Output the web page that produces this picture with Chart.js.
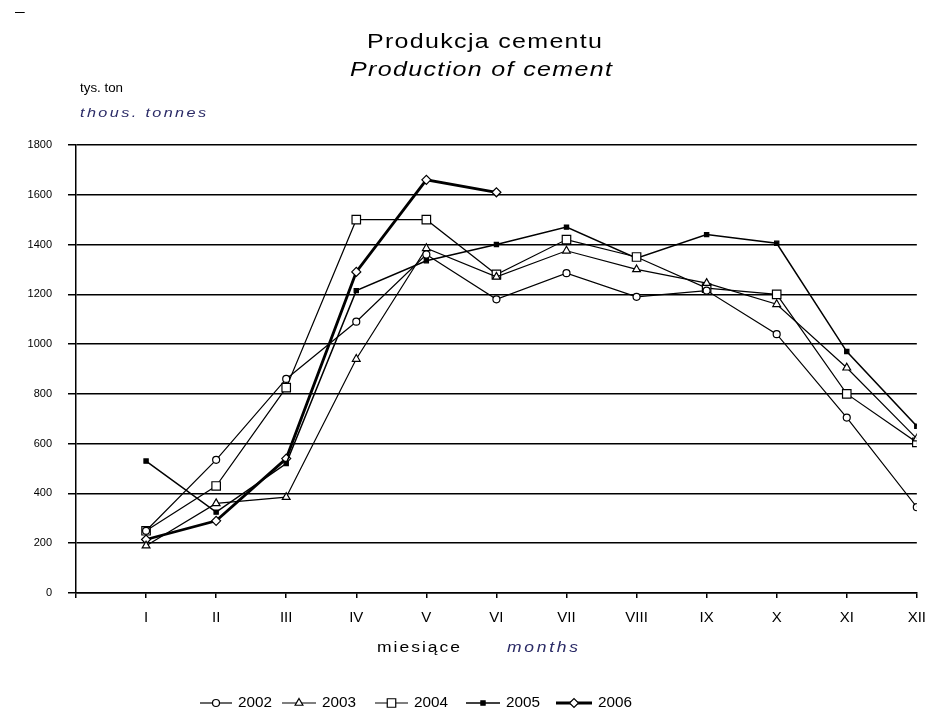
<!DOCTYPE html>
<html>
<head>
<meta charset="utf-8">
<script src="https://cdn.jsdelivr.net/npm/chart.js@4.4.1/dist/chart.umd.min.js"></script>
<style>
  html, body { margin: 0; padding: 0; background: #fff; }
  canvas { display: block; }
</style>
</head>
<body>
<canvas id="c" width="937" height="715"></canvas>
<script>
// Monthly cement production, thousand tonnes
const months = ['I', 'II', 'III', 'IV', 'V', 'VI', 'VII', 'VIII', 'IX', 'X', 'XI', 'XII'];
const years = ['2002', '2003', '2004', '2005', '2006'];
const prod2002 = [250, 535, 860, 1090, 1360, 1180, 1285, 1190, 1215, 1040, 705, 345];
const prod2003 = [190, 360, 385, 940, 1385, 1270, 1375, 1300, 1245, 1160, 905, 620];
const prod2004 = [250, 430, 825, 1500, 1500, 1280, 1420, 1350, 1225, 1200, 800, 605];
const prod2005 = [530, 325, 520, 1215, 1335, 1400, 1470, 1345, 1440, 1405, 970, 670];
const prod2006 = [215, 290, 540, 1290, 1660, 1610];
const yTicks = { min: 0, max: 1800, step: 200 };

const FONT = '"Liberation Sans", Arial, Helvetica, sans-serif';
const series = [prod2002, prod2003, prod2004, prod2005, prod2006];

// marker and line style per year
const styles = [
  { pointStyle: 'circle',   radius: 3.5, fill: '#ffffff', line: 1.2 },
  { pointStyle: 'triangle', radius: 4.5, fill: '#ffffff', line: 1.2 },
  { pointStyle: 'rect',     radius: 6,   fill: '#ffffff', line: 1.2 },
  { pointStyle: 'rect',     radius: 3,   fill: '#000000', line: 1.5 },
  { pointStyle: 'rectRot',  radius: 4.5, fill: '#ffffff', line: 2.8 }
];

const datasets = series.map((vals, i) => ({
  label: years[i],
  data: vals.map((v, j) => ({ x: j + 1, y: v })),
  borderColor: '#000',
  borderWidth: styles[i].line,
  pointStyle: styles[i].pointStyle,
  pointRadius: styles[i].radius,
  pointBackgroundColor: styles[i].fill,
  pointBorderColor: '#000',
  pointBorderWidth: 1.2,
  tension: 0,
  fill: false
}));

// text widened to a given width: glyphs stretched a little, the rest as spacing
function spreadText(ctx, text, font, left, y, width, color) {
  ctx.save();
  ctx.font = font;
  ctx.fillStyle = color;
  ctx.textAlign = 'left';
  ctx.textBaseline = 'middle';
  const n = [...text].length;
  if ('letterSpacing' in ctx) ctx.letterSpacing = '0px';
  const w = ctx.measureText(text).width;
  let sx = 1;
  if (width > w) sx = Math.min(1.25, width / w);
  if ('letterSpacing' in ctx && n > 1) {
    const sp = (width / sx - w) / (n - 1);
    ctx.letterSpacing = sp.toFixed(2) + 'px';
  }
  ctx.translate(left, y);
  ctx.scale(sx, 1);
  ctx.fillText(text, 0, 0);
  ctx.restore();
}

// titles, unit labels, axis caption and stray mark
const textLayer = {
  id: 'textLayer',
  afterDraw(chart) {
    const ctx = chart.ctx;
    spreadText(ctx, '–', '14px ' + FONT, 15, 12, 10, '#000');
    spreadText(ctx, 'Produkcja cementu', '20px ' + FONT, 367, 42, 235, '#000');
    spreadText(ctx, 'Production of cement', 'italic 20px ' + FONT, 350, 70, 262, '#000');
    spreadText(ctx, 'tys. ton', '13px ' + FONT, 80, 88, 43, '#000');
    spreadText(ctx, 'thous. tonnes', 'italic 13px ' + FONT, 80, 113, 126, '#2a2a66');
    spreadText(ctx, 'miesiące', '14px ' + FONT, 377, 648, 83, '#000');
    spreadText(ctx, 'months', 'italic 14px ' + FONT, 507, 648, 71, '#2a2a66');
  }
};

// legend: line with marker, then year
const legendLayout = { y: 703, lines: [[200, 232], [282, 316], [375, 408], [466, 500], [556, 592]], textGap: 6, textWidth: 34 };
const legendLayer = {
  id: 'legendLayer',
  afterDraw(chart) {
    const ctx = chart.ctx;
    chart.data.datasets.forEach((ds, i) => {
      const [x0, x1] = legendLayout.lines[i];
      const y = legendLayout.y;
      ctx.save();
      ctx.strokeStyle = '#000';
      ctx.lineWidth = ds.borderWidth;
      ctx.beginPath();
      ctx.moveTo(x0, y);
      ctx.lineTo(x1, y);
      ctx.stroke();
      ctx.fillStyle = ds.pointBackgroundColor;
      ctx.strokeStyle = ds.pointBorderColor;
      ctx.lineWidth = ds.pointBorderWidth;
      Chart.helpers.drawPoint(ctx, {
        pointStyle: ds.pointStyle,
        radius: ds.pointRadius,
        borderWidth: ds.pointBorderWidth,
        rotation: 0
      }, (x0 + x1) / 2, y);
      ctx.restore();
      spreadText(ctx, ds.label, '14px ' + FONT, x1 + legendLayout.textGap, y, legendLayout.textWidth, '#000');
    });
  }
};

new Chart(document.getElementById('c'), {
  type: 'line',
  data: { datasets },
  plugins: [textLayer, legendLayer],
  options: {
    responsive: false,
    animation: false,
    events: [],
    layout: { padding: { left: 0, top: 145, right: 19, bottom: 82 } },
    plugins: {
      legend: { display: false },
      title: { display: false },
      tooltip: { enabled: false }
    },
    scales: {
      x: {
        type: 'linear',
        min: 0,
        max: months.length,
        ticks: {
          stepSize: 1,
          autoSkip: false,
          maxRotation: 0,
          padding: 11,
          color: '#000',
          font: { family: FONT, size: 15 },
          callback: (v) => months[v - 1] || ''
        },
        grid: { drawOnChartArea: false, color: '#000', lineWidth: 1.5, tickLength: 5 },
        border: { color: '#000', width: 1.5 },
        afterFit(s) { s.height = 40; }
      },
      y: {
        min: yTicks.min,
        max: yTicks.max,
        ticks: {
          stepSize: yTicks.step,
          padding: 16,
          color: '#000',
          font: { family: FONT, size: 11 },
          callback: (v) => String(v)
        },
        grid: { color: '#000', lineWidth: 1.5, tickLength: 8 },
        border: { color: '#000', width: 1.5 },
        afterFit(s) { s.width = 76; }
      }
    }
  }
});
</script>
</body>
</html>
